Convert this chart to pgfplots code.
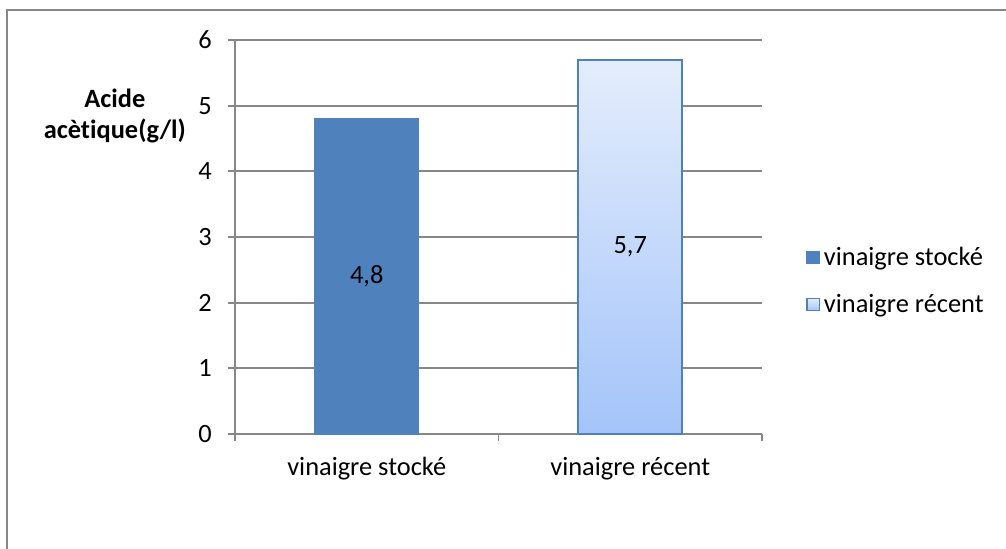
\documentclass[border=0pt]{standalone}
\usepackage{fontspec}
\setmainfont{Carlito}[Ligatures=NoCommon]
\usepackage{pgfplots}
\pgfplotsset{compat=1.18}

\definecolor{gridgray}{HTML}{878787}
\definecolor{barblue}{HTML}{4F81BD}
\definecolor{lighttop}{HTML}{E4EDFC}
\definecolor{lightbot}{HTML}{A4C4FA}

\begin{document}
\fontsize{13.2}{15.5}\selectfont
\begin{tikzpicture}[x=1pt,y=1pt]
% page area and the chart frame (left and top edges visible)
\path[use as bounding box] (-117.5,-57) rectangle (385.5,217);
\draw[gridgray, line width=0.9pt] (-114,-70) -- (-114,212) -- (400,212);

\begin{axis}[
  at={(0,0)}, anchor=south west,
  scale only axis, width=263.5pt, height=197pt,
  xmin=-0.5, xmax=1.5, ymin=0, ymax=6,
  ytick={0,1,2,3,4,5,6},
  xtick={-0.5,0.5,1.5},
  x tick label as interval,
  xticklabels={vinaigre stocké, vinaigre récent},
  axis x line=bottom, axis y line=left,
  axis line style={-, gridgray, line width=0.9pt},
  ymajorgrids, grid style={gridgray, line width=0.9pt},
  tick style={gridgray, line width=0.9pt},
  tick align=outside, major tick length=3.5pt,
  /pgf/number format/assume math mode=true,
  y tick label style={xshift=-3.5pt},
  x tick label style={yshift=-3.5pt},
  ylabel={Acide\\acètique(g/l)},
  ylabel style={rotate=-90, at={(axis description cs:-0.228,0.807)}, anchor=center, align=center, font=\bfseries},
  ybar, bar width=52pt,
  visualization depends on={rawy \as \rawy},
  nodes near coords={\pgfmathprintnumber[fixed, precision=1, use comma, fixed zerofill]{\pgfplotspointmeta}},
  every node near coord/.append style={anchor=center, text=black, yshift={-\rawy*16.41667pt}},
  legend style={draw=none, fill=none, at={(1.072,0.386)}, anchor=west, row sep=8.5pt, cells={anchor=west}},
  legend image code/.code={\draw[#1, line width=0.6pt] (0pt,-2.6pt) rectangle (6.2pt,3.6pt);},
]
\addplot[fill=barblue, draw=barblue, bar shift=0pt] coordinates {(0,4.8)};
\addplot[top color=lighttop, bottom color=lightbot, draw=barblue, line width=0.9pt, bar shift=0pt] coordinates {(1,5.7)};
\legend{vinaigre stocké, vinaigre récent}
\end{axis}
\end{tikzpicture}
\end{document}
